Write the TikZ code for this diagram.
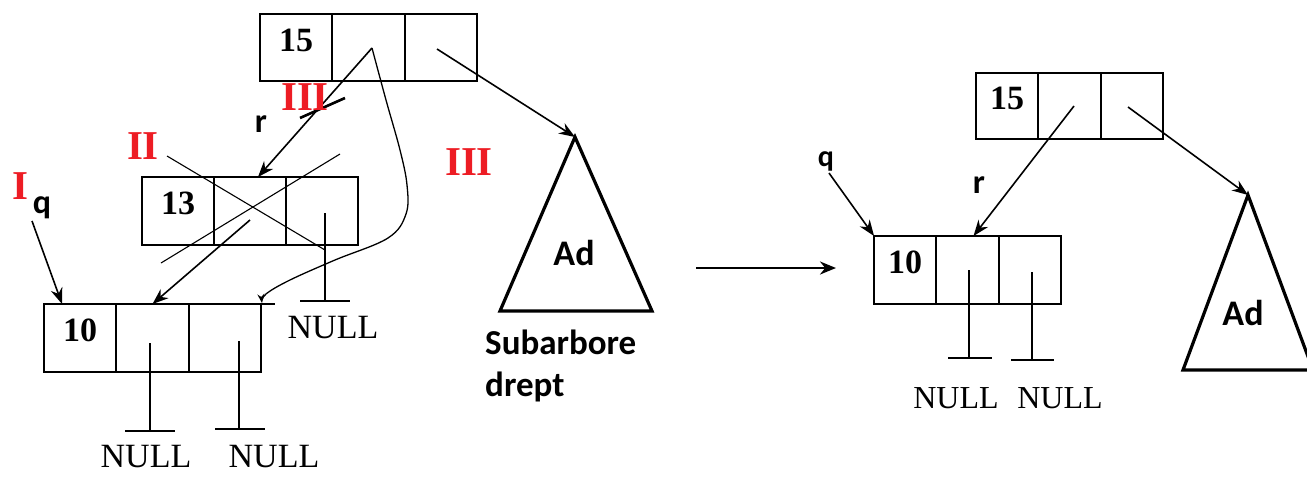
\documentclass[tikz,border=0pt]{standalone}
\usepackage{fontspec}
\setmainfont{Liberation Serif}
\newfontfamily\labelfont{Carlito}
\usetikzlibrary{arrows.meta,calc}
\definecolor{numred}{RGB}{237,28,36}

\begin{document}
\begin{tikzpicture}[x=1pt,y=-1pt,
  cell/.style={draw, line width=1.8pt, inner sep=0pt, outer sep=0pt,
    text depth=15pt, font=\bfseries\fontsize{34}{34}\selectfont},
  bigcell/.style={cell, minimum width=72.3pt, minimum height=68pt},
  smallcell/.style={cell, minimum width=62.3pt, minimum height=67pt},
  ptr/.style={line width=1.6pt, -{Stealth[length=16pt,width=12pt]}},
  stub/.style={line width=1.8pt},
  nulltext/.style={inner sep=0pt, font=\fontsize{34}{34}\selectfont},
  nulltextsm/.style={inner sep=0pt, font=\fontsize{32}{32}\selectfont},
  roman/.style={inner sep=0pt, text=numred, font=\bfseries\fontsize{41}{41}\selectfont},
  var/.style={inner sep=0pt, anchor=base, font=\labelfont\bfseries\fontsize{34}{34}\selectfont},
  sans/.style={inner sep=0pt, font=\labelfont\bfseries\fontsize{36}{36}\selectfont},
  tree/.style={line width=3.2pt, line join=miter},
]
\useasboundingbox (0,0) rectangle (1307,477);
\clip (0,0) rectangle (1307,477);

% ---------- before: node 15 with its left child 13 ----------
\node[bigcell, minimum height=67pt] (t1) at (296.2,47.5) {15};
\node[bigcell, minimum height=67pt] (t2) at (368.5,47.5) {};
\node[bigcell, minimum height=67pt] (t3) at (440.8,47.5) {};

\node[bigcell, minimum width=72pt] (m1) at (178,211) {13};
\node[bigcell, minimum width=72pt] (m2) at (250,211) {};
\node[bigcell, minimum width=72pt] (m3) at (322,211) {};

\node[bigcell] (b1) at (80.2,338) {10};
\node[bigcell] (b2) at (152.5,338) {};
\node[bigcell] (b3) at (224.8,338) {};
\draw[stub] (b3.north east) -- ++(14,0);

% subtree on the right
\coordinate (Lapex) at (575,137);
\coordinate (Lbr) at (652,311);
\coordinate (Lbl) at (500,311);
\draw[tree] (Lapex) -- (Lbr) -- (Lbl) -- cycle;
\node[sans] at (574,253) {Ad};
\node[anchor=north west, align=left, inner sep=0pt,
      font=\labelfont\bfseries\fontsize{35}{42}\selectfont] (sub) at (485,330) {Subarbore\\drept};

% pointers
\coordinate (t2p) at (372,48);
\coordinate (t3p) at (437,49);
\coordinate (m2in) at (258,177);
\coordinate (m2p) at (250,220);
\coordinate (qL) at (32,221);
\draw[ptr] (t2p) -- (m2in);
\draw[ptr] (t3p) -- (Lapex);
\draw[ptr] (m2p) -- (b2.north);
\draw[ptr] (qL) -- ($(b1.north west)+(18,0)$);
\draw[line width=1.3pt, -{Stealth[length=9pt,width=7pt]}]
  plot[smooth, tension=0.6] coordinates {(372,48) (386,100) (400,150) (407,185) (406,214)
    (388,238) (335,260) (290,280) (266,294) (262,303)};

% crossed-out links
\draw[line width=2.6pt] (300,118) -- (345,98);
\draw[line width=1.1pt] (167,156) -- (325,250);
\draw[line width=1.1pt] (340,154) -- (161,263);

% null stubs
\coordinate (b2s) at (150,343); \coordinate (b2g) at (150,431);
\coordinate (b3s) at (239,341); \coordinate (b3g) at (239,429);
\coordinate (m3s) at (325,213); \coordinate (m3g) at (325,301);
\draw[stub] (b2s) -- (b2g) (b2g) ++(-25,0) -- ++(50,0);
\draw[stub] (b3s) -- (b3g) (b3g) ++(-24,0) -- ++(50,0);
\draw[stub] (m3s) -- (m3g) (m3g) ++(-25,0) -- ++(50,0);
\node[nulltext] at (146,457) {NULL};
\node[nulltext] at (274,457) {NULL};
\node[nulltext] at (333,328) {NULL};

% labels
\node[roman] at (305,97) {III};
\node[roman] at (143,146) {II};
\node[roman] at (20,186) {I};
\node[roman] at (469,162) {III};
\node[var] at (261,132) {r};
\node[var] at (42,213) {q};

% ---------- transition ----------
\coordinate (go1) at (696,268);
\coordinate (go2) at (836,268);
\draw[line width=2.6pt, -{Stealth[length=16pt,width=13pt]}] (go1) -- (go2);

% ---------- after ----------
\node[smallcell, minimum height=66pt] (c1) at (1007.2,106) {15};
\node[smallcell, minimum height=66pt] (c2) at (1069.5,106) {};
\node[smallcell, minimum height=66pt] (c3) at (1131.8,106) {};

\node[smallcell, minimum height=68pt] (d1) at (905.2,270) {10};
\node[smallcell, minimum height=68pt] (d2) at (967.5,270) {};
\node[smallcell, minimum height=68pt] (d3) at (1029.8,270) {};

\coordinate (Rapex) at (1248,195);
\coordinate (Rbr) at (1313,370);
\coordinate (Rbl) at (1183,370);
\draw[tree] (Rapex) -- (Rbr) -- (Rbl) -- cycle;
\node[sans] at (1243,313) {Ad};

\coordinate (c2p) at (1074,106);
\coordinate (c3p) at (1128,107);
\coordinate (qR) at (829,173);
\draw[ptr] (c2p) -- ($(d2.north)+(6,0)$);
\draw[ptr] (c3p) -- (Rapex);
\draw[ptr] (qR) -- (d1.north west);

\coordinate (d2s) at (969,270); \coordinate (d2g) at (969,358);
\coordinate (d3s) at (1032,272); \coordinate (d3g) at (1032,360);
\draw[stub] (d2s) -- (d2g) (d2g) ++(-21,0) -- ++(44,0);
\draw[stub] (d3s) -- (d3g) (d3g) ++(-21,0) -- ++(43,0);
\node[nulltextsm] at (956,398) {NULL};
\node[nulltextsm] at (1060,398) {NULL};

\node[var, font=\labelfont\bfseries\fontsize{30}{30}\selectfont] at (826,166) {q};
\node[var] at (979,193) {r};
\end{tikzpicture}
\end{document}
